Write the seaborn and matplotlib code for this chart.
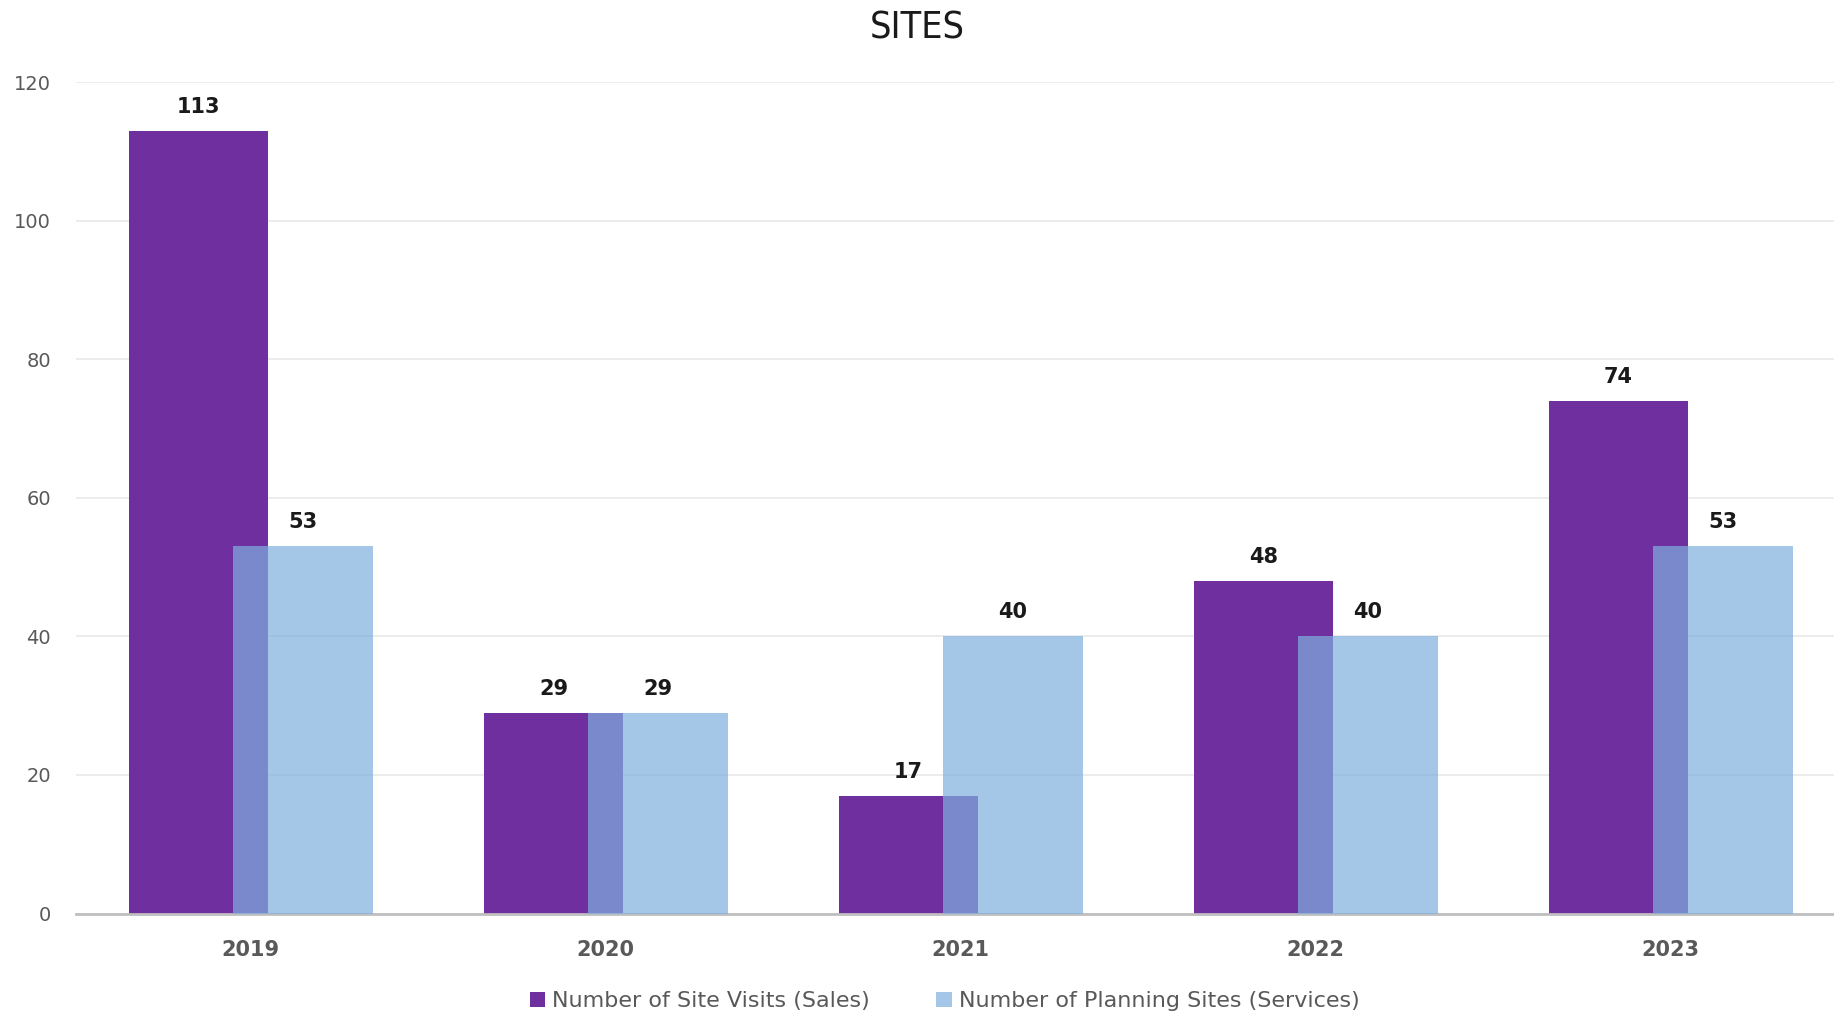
import numpy as np
import pandas as pd
import matplotlib
matplotlib.use("Agg")
import matplotlib.pyplot as plt
import seaborn as sns

years = [2019, 2020, 2021, 2022, 2023]
site_visits = [113, 29, 17, 48, 74]
planning_sites = [53, 29, 40, 40, 53]
series_names = ["Number of Site Visits (Sales)", "Number of Planning Sites (Services)"]

purple = "#6F2F9F"
blue = "#7EB0DE"

sns.set_style("white")
plt.rcParams["font.family"] = ["DejaVu Sans"]

fig = plt.figure(figsize=(18.34, 10.13), dpi=100)
ax = fig.add_axes([0.0414, 0.0982, 0.9586, 0.8208])

yrs = np.array(years, dtype=float)
shift = 0.147
bw = 0.393

sns.barplot(x=yrs - shift, y=site_visits, native_scale=True, width=bw,
            color=purple, saturation=1, linewidth=0, ax=ax, label=series_names[0], zorder=2)
sns.barplot(x=yrs + shift, y=planning_sites, native_scale=True, width=bw,
            color=blue, saturation=1, alpha=0.7, linewidth=0, ax=ax,
            label=series_names[1], zorder=3)
if ax.get_legend() is not None:
    ax.get_legend().remove()

for cont in ax.containers:
    ax.bar_label(cont, padding=10, fontsize=15, fontweight="bold", color="#1a1a1a")

ax.set_xlim(years[0] - 0.493, years[-1] + 0.46)
ax.set_ylim(0, 120)
ax.set_yticks(range(0, 121, 20))
ax.set_xticks(years)
ax.set_xticklabels([str(y) for y in years], fontsize=15, fontweight="bold", color="#595959")
ax.tick_params(axis="y", labelsize=14, labelcolor="#595959", length=0, pad=18)
ax.tick_params(axis="x", length=0, pad=19)
ax.set_xlabel("")
ax.set_ylabel("")

ax.yaxis.grid(True, color="#ebebeb", linewidth=1.3, zorder=0)
ax.set_axisbelow(True)
for s in ["top", "right", "left"]:
    ax.spines[s].set_visible(False)
ax.spines["bottom"].set_color("#bfbfbf")
ax.spines["bottom"].set_linewidth(2)

fig.suptitle("SITES", y=0.99, fontsize=27, color="#1a1a1a",
             family=["DejaVu Sans"], fontstretch="condensed")

handles, labels = ax.get_legend_handles_labels()
fig.legend(handles, labels, loc="lower center", bbox_to_anchor=(0.515, -0.018), ncol=2,
           frameon=False, fontsize=16, handlelength=0.7, handleheight=0.7,
           handletextpad=0.3, columnspacing=3.0, labelcolor="#595959")

fig.savefig("out.png", dpi=100)
